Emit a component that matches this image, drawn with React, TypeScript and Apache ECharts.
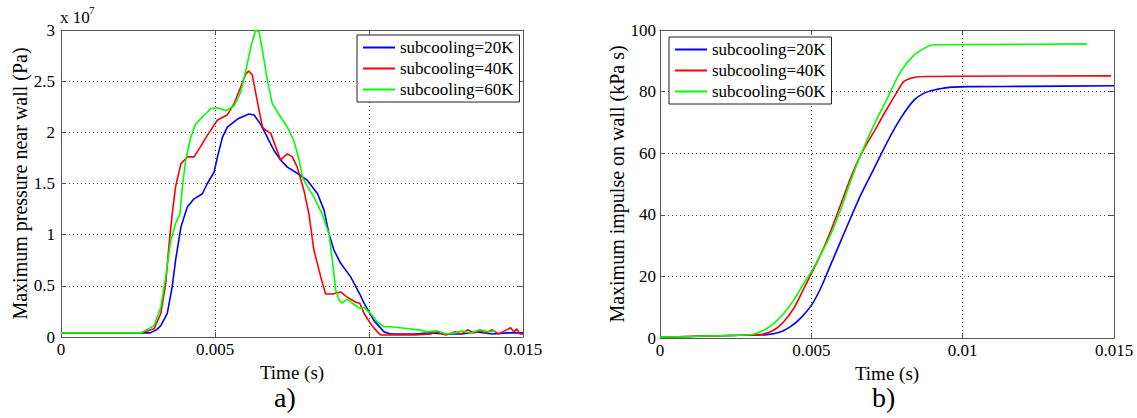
import React, { useEffect, useRef } from "react";
import * as echarts from "echarts";

// ---------- Data ----------
const seriesNames = ["subcooling=20K", "subcooling=40K", "subcooling=60K"];
const seriesColors = ["#0000FF", "#FF0000", "#00FF00"];

const xTicksLabelsTime = ["0", "0.005", "0.01", "0.015"];

// a) Maximum pressure near wall (x 1e7 Pa)
const timeP20 = [0, 0.0026, 0.0029, 0.0031, 0.00324, 0.00345, 0.00361, 0.00372, 0.00389, 0.0041, 0.00432, 0.00459, 0.00475, 0.00497, 0.00508, 0.00524, 0.0054, 0.00573, 0.0061, 0.00627, 0.00648, 0.0067, 0.00692, 0.00713, 0.00735, 0.00767, 0.008, 0.00833, 0.00854, 0.0087, 0.00886, 0.00908, 0.0094, 0.0097, 0.00984, 0.01016, 0.01049, 0.0107, 0.0115, 0.012, 0.0125, 0.013, 0.0135, 0.014, 0.0145, 0.015];
const pressure20 = [0.04, 0.04, 0.04, 0.07, 0.11, 0.23, 0.49, 0.75, 1.07, 1.27, 1.35, 1.4, 1.5, 1.61, 1.76, 1.95, 2.05, 2.13, 2.18, 2.17, 2.08, 1.95, 1.82, 1.73, 1.66, 1.6, 1.53, 1.4, 1.24, 1.01, 0.85, 0.72, 0.59, 0.42, 0.33, 0.16, 0.05, 0.03, 0.03, 0.04, 0.03, 0.03, 0.05, 0.03, 0.04, 0.04];

const timeP40 = [0, 0.0026, 0.00302, 0.00324, 0.0034, 0.0035, 0.00361, 0.00372, 0.00389, 0.0041, 0.00432, 0.00453, 0.00475, 0.00508, 0.0054, 0.00562, 0.00583, 0.006, 0.0061, 0.00621, 0.00637, 0.00654, 0.00665, 0.00681, 0.00697, 0.00713, 0.00735, 0.00751, 0.00767, 0.00789, 0.00805, 0.00821, 0.00843, 0.00859, 0.00881, 0.00908, 0.00929, 0.00957, 0.0097, 0.00984, 0.01005, 0.01027, 0.01038, 0.0115, 0.012, 0.0122, 0.0125, 0.0128, 0.013, 0.0132, 0.0134, 0.0136, 0.0138, 0.014, 0.0142, 0.0144, 0.0146, 0.0147, 0.0148, 0.0149, 0.015];
const pressure40 = [0.04, 0.04, 0.08, 0.23, 0.52, 0.88, 1.2, 1.47, 1.69, 1.76, 1.76, 1.86, 1.97, 2.12, 2.17, 2.28, 2.44, 2.57, 2.6, 2.56, 2.31, 2.05, 2.02, 1.99, 1.86, 1.73, 1.79, 1.76, 1.66, 1.43, 1.2, 0.85, 0.59, 0.42, 0.42, 0.44, 0.39, 0.34, 0.33, 0.23, 0.13, 0.05, 0.02, 0.02, 0.03, 0.05, 0.02, 0.05, 0.03, 0.07, 0.04, 0.06, 0.04, 0.07, 0.03, 0.06, 0.09, 0.05, 0.08, 0.03, 0.03];

const timeP60 = [0, 0.0026, 0.00302, 0.00324, 0.0034, 0.00356, 0.00372, 0.00386, 0.00394, 0.00405, 0.00421, 0.00437, 0.00459, 0.00486, 0.00508, 0.00535, 0.00562, 0.00583, 0.006, 0.00616, 0.00632, 0.00643, 0.00654, 0.0067, 0.00686, 0.00713, 0.00735, 0.00756, 0.00773, 0.00784, 0.008, 0.00821, 0.00848, 0.0087, 0.00881, 0.00892, 0.00903, 0.00913, 0.00929, 0.00946, 0.0097, 0.00984, 0.01005, 0.01027, 0.01049, 0.0107, 0.011, 0.0113, 0.0116, 0.0119, 0.0122, 0.0125, 0.0128, 0.013, 0.0133, 0.0136, 0.0139, 0.0141];
const pressure60 = [0.04, 0.04, 0.11, 0.29, 0.59, 0.94, 1.11, 1.2, 1.47, 1.73, 1.95, 2.08, 2.15, 2.23, 2.24, 2.21, 2.26, 2.39, 2.6, 2.83, 3.0, 2.98, 2.8, 2.51, 2.28, 2.15, 2.05, 1.92, 1.73, 1.56, 1.47, 1.37, 1.2, 1.01, 0.75, 0.46, 0.36, 0.33, 0.37, 0.33, 0.28, 0.29, 0.23, 0.15, 0.1, 0.1, 0.09, 0.08, 0.07, 0.05, 0.06, 0.03, 0.04, 0.06, 0.04, 0.07, 0.05, 0.06];

// b) Maximum impulse on wall (kPa s)
const timeI20 = [0, 0.001, 0.002, 0.00264, 0.00353, 0.00397, 0.0043, 0.00463, 0.005, 0.0053, 0.00563, 0.00596, 0.00629, 0.00663, 0.00707, 0.00751, 0.00795, 0.0084, 0.00873, 0.00906, 0.0095, 0.01017, 0.012, 0.015];
const impulse20 = [0.3, 0.5, 0.75, 0.87, 1.1, 1.95, 3.6, 6.3, 10.6, 16, 23.6, 31.2, 38.8, 46.4, 55, 63.7, 71.3, 77.3, 79.5, 80.5, 81.3, 81.6, 81.7, 81.9];

const timeI40 = [0, 0.001, 0.002, 0.00264, 0.00331, 0.00375, 0.00408, 0.00441, 0.00475, 0.005, 0.0053, 0.00563, 0.00596, 0.00629, 0.00663, 0.00707, 0.00751, 0.00784, 0.00806, 0.0084, 0.00884, 0.01, 0.0149];
const impulse40 = [0.3, 0.5, 0.75, 0.87, 1.1, 2.5, 5.2, 9.5, 16, 20.9, 26.9, 34.5, 43.1, 51.8, 59.4, 67, 74.6, 80, 83.3, 84.6, 84.9, 85, 85.1];

const timeI60 = [0, 0.001, 0.002, 0.00264, 0.00308, 0.00342, 0.00375, 0.00408, 0.00441, 0.00475, 0.005, 0.0053, 0.00563, 0.00596, 0.00629, 0.00663, 0.00707, 0.00751, 0.00795, 0.0084, 0.00884, 0.00906, 0.011, 0.0141];
const impulse60 = [0.3, 0.5, 0.75, 0.87, 1.2, 2.5, 4.7, 7.9, 12.2, 17.7, 21.5, 26.9, 33.4, 41.5, 50.7, 59.4, 69.2, 77.8, 86.5, 91.9, 94.6, 95.2, 95.3, 95.5];

// ---------- Chart ----------
const FONT = "Liberation Serif";
const zip = (xs: number[], ys: number[]) => xs.map((x, i) => [x, ys[i]]);
const fmtTime = (v: number) => {
  const r = Math.round(v * 1000) / 1000;
  const idx = [0, 0.005, 0.01, 0.015].findIndex((t) => Math.abs(t - r) < 1e-9);
  return idx >= 0 ? xTicksLabelsTime[idx] : String(r);
};

const axisLineStyle = { color: "#555", width: 1 };
const tickStyle = { inside: true, length: 5, lineStyle: { color: "#555" } };
const gridLine = { show: true, lineStyle: { color: "#444", type: [1, 3] as any, width: 1 } };

function bottomX(gridIndex: number) {
  return {
    type: "value",
    gridIndex,
    position: "bottom",
    min: 0,
    max: 0.015,
    interval: 0.005,
    axisLine: { show: true, onZero: false, lineStyle: axisLineStyle },
    axisTick: tickStyle,
    splitLine: gridLine,
    axisLabel: { fontFamily: FONT, fontSize: 17, color: "#000", margin: 4, formatter: fmtTime },
    name: "Time (s)",
    nameLocation: "middle",
    nameGap: 20,
    nameTextStyle: { fontFamily: FONT, fontSize: 19, color: "#000", lineHeight: 19 },
  };
}
function topX(gridIndex: number) {
  return {
    type: "value",
    gridIndex,
    position: "top",
    min: 0,
    max: 0.015,
    interval: 0.005,
    axisLine: { show: true, onZero: false, lineStyle: axisLineStyle },
    axisTick: tickStyle,
    splitLine: { show: false },
    axisLabel: { show: false },
  };
}
function leftY(gridIndex: number, max: number, interval: number, name: string, nameGap: number, margin: number) {
  return {
    type: "value",
    gridIndex,
    position: "left",
    min: 0,
    max,
    interval,
    axisLine: { show: true, onZero: false, lineStyle: axisLineStyle },
    axisTick: tickStyle,
    splitLine: gridLine,
    axisLabel: { fontFamily: FONT, fontSize: 17, color: "#000", margin },
    name,
    nameLocation: "middle",
    nameRotate: 90,
    nameGap,
    nameTextStyle: { fontFamily: FONT, fontSize: 20, color: "#000" },
  };
}
function rightY(gridIndex: number, max: number, interval: number) {
  return {
    type: "value",
    gridIndex,
    position: "right",
    min: 0,
    max,
    interval,
    axisLine: { show: true, onZero: false, lineStyle: axisLineStyle },
    axisTick: tickStyle,
    splitLine: { show: false },
    axisLabel: { show: false },
  };
}

function legend(left: number, top: number) {
  return {
    orient: "vertical",
    left,
    top,
    data: seriesNames,
    icon: "rect",
    itemWidth: 32,
    itemHeight: 2,
    itemGap: 4,
    padding: [4, 6, 4, 6],
    backgroundColor: "#fff",
    borderColor: "#222",
    borderWidth: 1,
    borderRadius: 0,
    textStyle: { fontFamily: FONT, fontSize: 17, color: "#000", lineHeight: 17 },
    selectedMode: false,
  };
}

function lineSeries(name: string, color: string, xi: number, yi: number, data: number[][], smooth: boolean | number) {
  return {
    type: "line",
    name,
    xAxisIndex: xi,
    yAxisIndex: yi,
    data,
    showSymbol: false,
    symbol: "none",
    smooth,
    lineStyle: { color, width: 1.6 },
    itemStyle: { color },
    z: 3,
  };
}

export default function App() {
  const ref = useRef<HTMLDivElement>(null);
  useEffect(() => {
    if (!ref.current) return;
    const chart = echarts.init(ref.current, undefined, { renderer: "svg" });
    const option: any = {
      animation: false,
      backgroundColor: "#fff",
      textStyle: { fontFamily: FONT },
      grid: [
        { left: 61, top: 30, width: 462, height: 307, show: false },
        { left: 660, top: 30, width: 454, height: 308, show: false },
      ],
      xAxis: [bottomX(0), topX(0), bottomX(1), topX(1)],
      yAxis: [
        leftY(0, 3, 0.5, "Maximum pressure near wall (Pa)", 30, 6),
        rightY(0, 3, 0.5),
        leftY(1, 100, 20, "Maximum impulse on wall (kPa s)", 33, 4),
        rightY(1, 100, 20),
      ],
      legend: [legend(357, 35), legend(669, 37)],
      series: [
        lineSeries(seriesNames[0], seriesColors[0], 0, 0, zip(timeP20, pressure20), false),
        lineSeries(seriesNames[1], seriesColors[1], 0, 0, zip(timeP40, pressure40), false),
        lineSeries(seriesNames[2], seriesColors[2], 0, 0, zip(timeP60, pressure60), false),
        lineSeries(seriesNames[0], seriesColors[0], 2, 2, zip(timeI20, impulse20), 0.3),
        lineSeries(seriesNames[1], seriesColors[1], 2, 2, zip(timeI40, impulse40), 0.3),
        lineSeries(seriesNames[2], seriesColors[2], 2, 2, zip(timeI60, impulse60), 0.3),
      ],
      graphic: [
        { type: "text", left: 60, top: 9, style: { text: "x 10", fontFamily: FONT, fontSize: 17, fill: "#000" } },
        { type: "text", left: 89, top: 4, style: { text: "7", fontFamily: FONT, fontSize: 11, fill: "#000" } },
        { type: "text", left: 274, top: 383, style: { text: "a)", fontFamily: FONT, fontSize: 28, fill: "#000" } },
        { type: "text", left: 872, top: 383, style: { text: "b)", fontFamily: FONT, fontSize: 28, fill: "#000" } },
      ],
    };
    chart.setOption(option);
    return () => chart.dispose();
  }, []);
  return (
    <div
      ref={ref}
      style={{ position: "absolute", left: 0, top: 0, width: 1137, height: 418, background: "#fff" }}
    />
  );
}
